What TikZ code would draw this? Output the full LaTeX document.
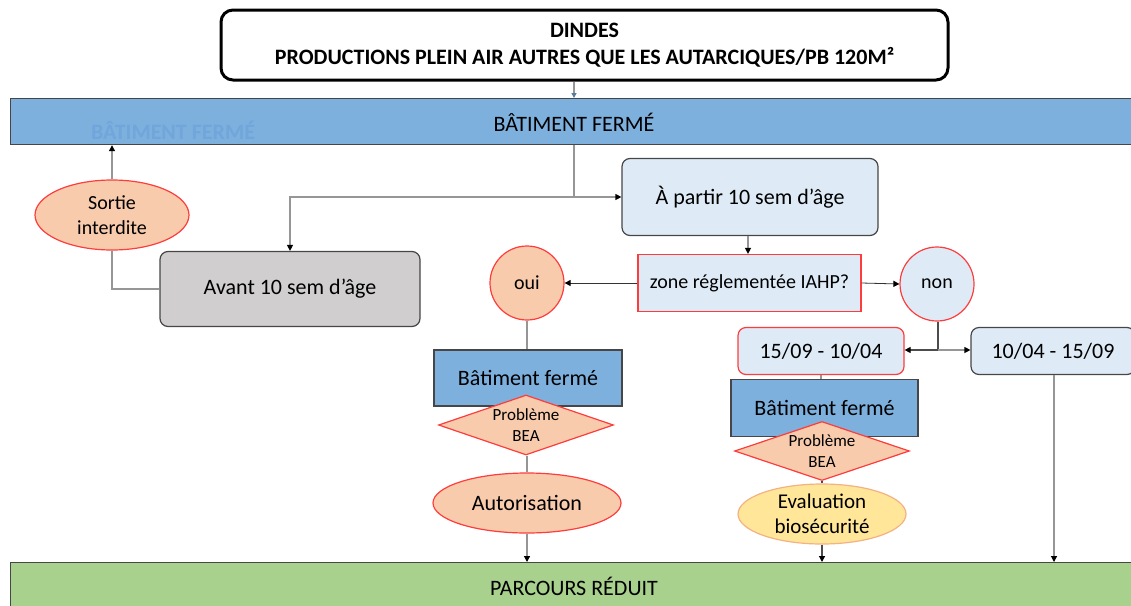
\documentclass[tikz,border=0pt]{standalone}
\usepackage{fontspec}
\setmainfont{Carlito}
\usetikzlibrary{arrows.meta,shapes.geometric}
\definecolor{barblue}{RGB}{126,176,222}
\definecolor{ghost}{RGB}{112,166,219}
\definecolor{lightblue}{RGB}{222,235,247}
\definecolor{salmon}{RGB}{248,203,173}
\definecolor{boxgray}{RGB}{208,206,206}
\definecolor{barGreen}{RGB}{169,209,142}
\definecolor{evalYellow}{RGB}{255,230,153}
\definecolor{evalBorder}{RGB}{244,177,131}
\definecolor{redb}{RGB}{255,60,60}
\definecolor{darkb}{RGB}{70,70,70}
\definecolor{linegray}{RGB}{150,150,150}
\tikzset{
  conn/.style={draw=linegray, line width=1.2pt},
  arr/.style={conn, -{Triangle[length=6pt,width=6pt,color=black]}},
  rbox/.style={draw=darkb, line width=1.2pt, rounded corners=8pt, inner sep=0pt, align=center, font=\fontsize{22}{26}\selectfont},
  sbox/.style={draw=darkb, line width=1.5pt, inner sep=0pt, align=center, font=\fontsize{22}{26}\selectfont},
  ell/.style={ellipse, draw=redb, line width=1.2pt, fill=salmon, inner sep=0pt, align=center},
  circ/.style={circle, draw=redb, line width=1.2pt, inner sep=0pt, minimum size=74pt, font=\fontsize{20}{24}\selectfont},
  dia/.style={diamond, draw=redb, line width=1.2pt, fill=salmon, inner sep=0pt, aspect=2.9, align=center, font=\fontsize{17}{21}\selectfont},
  bar/.style={draw=darkb, line width=1.2pt, inner sep=0pt},
  bartext/.style={font=\fontsize{22}{26}\selectfont},
}
\begin{document}
\begin{tikzpicture}[x=1pt,y=-1pt]
\useasboundingbox (0,0) rectangle (1131,605);
% bars
\node[bar, fill=barblue, minimum width=1130pt, minimum height=46pt, anchor=north west] (top) at (10,98) {};
\node[bartext] (toptxt) at (574,122) {BÂTIMENT FERMÉ};
\node[font=\bfseries\fontsize{22}{26}\selectfont, text=ghost] (ghosttxt) at (173,130) {BÂTIMENT FERMÉ};
\node[bar, fill=barGreen, minimum width=1130pt, minimum height=50pt, anchor=north west] (bot) at (10,562) {};
\node[bartext] (bottxt) at (574,586) {PARCOURS RÉDUIT};
% title
\node[draw=black, line width=3pt, rounded corners=12pt, fill=white, minimum width=727pt, minimum height=70pt, align=center, inner sep=0pt, font=\bfseries\fontsize{22}{27}\selectfont] (title) at (584.5,45) {\raisebox{-2pt}{DINDES}\\\raisebox{-2pt}{PRODUCTIONS PLEIN AIR AUTRES QUE LES AUTARCIQUES/PB 120M²}};
% left part
\node[ell, minimum width=154pt, minimum height=70pt, font=\fontsize{20}{25}\selectfont] (sortie) at (112,215) {Sortie\\interdite};
\node[rbox, fill=boxgray, minimum width=260pt, minimum height=75pt] (avant) at (290,289) {Avant 10 sem d’âge};
\node[rbox, fill=lightblue, minimum width=256pt, minimum height=77pt] (apartir) at (750,197) {À partir 10 sem d’âge};
\node[draw=redb, line width=1.2pt, fill=lightblue, minimum width=223pt, minimum height=57pt, inner sep=0pt, font=\fontsize{20}{24}\selectfont] (zone) at (749.5,283) {zone réglementée IAHP?};
\node[circ, fill=salmon] (oui) at (527,283) {oui};
\node[circ, fill=lightblue] (non) at (937,284) {non};
% dates
\node[rbox, draw=redb, fill=lightblue, minimum width=166pt, minimum height=47pt] (d1) at (821,351) {15/09 - 10/04};
\node[rbox, fill=lightblue, minimum width=164pt, minimum height=47pt] (d2) at (1053,351) {10/04 - 15/09};
% left column
\node[sbox, fill=barblue, minimum width=188pt, minimum height=56pt] (bf1) at (528,378) {Bâtiment fermé};
\node[dia, minimum width=175pt, minimum height=60pt] (pb1) at (526,425) {Problème\\BEA};
\node[ell, minimum width=188pt, minimum height=60pt, font=\fontsize{22}{26}\selectfont] (auto) at (527,503) {Autorisation};
% middle column
\node[sbox, fill=barblue, minimum width=187pt, minimum height=57pt] (bf2) at (824.5,408) {Bâtiment fermé};
\node[dia, minimum width=175pt, minimum height=59pt] (pb2) at (822,451) {Problème\\BEA};
\node[ellipse, draw=evalBorder, line width=1.2pt, fill=evalYellow, inner sep=0pt, minimum width=168pt, minimum height=60pt, align=center, font=\fontsize{21}{25}\selectfont] (eval) at (822,514) {Evaluation\\biosécurité};
% connectors
\coordinate (j1) at (574,197);
\draw[conn, -{Triangle[length=5pt,width=5pt,color=barblue!70!black]}] (title.south -| 574,0) -- (top.north -| 574,0);
\draw[conn] (top.south -| j1) -- (j1);
\draw[arr] (j1) -- (apartir.west);
\draw[arr] (j1) -| (avant.north);
\draw[arr] (sortie.north) -- (sortie.north |- top.south);
\draw[conn] (sortie.south) |- (avant.west);
\draw[arr] (apartir.south -| 748,0) -- (zone.north -| 748,0);
\draw[arr, draw=black!80, line width=0.8pt] (zone.west) -- (oui.east);
\draw[arr, draw=black!80, line width=0.8pt] (zone.east) -- (non.west);
\coordinate (j2) at (938,350);
\draw[conn, draw=black!70] (non.south -| j2) -- (j2);
\draw[arr, draw=black!70] (j2) -- (d1.east |- j2);
\draw[arr] (j2) -- (d2.west |- j2);
\draw[conn] (oui.south) -- (bf1.north -| oui.south);
\draw[conn] (pb1.south -| 527,0) -- (auto.north);
\draw[arr] (auto.south) -- (bot.north -| auto.south);
\draw[conn] (d1.south) -- (bf2.north -| d1.south);
\draw[conn, draw=black!70] (pb2.south) -- (eval.north);
\draw[arr, draw=black!70] (eval.south) -- (bot.north -| eval.south);
\draw[arr] (d2.south -| 1054,0) -- (bot.north -| 1054,0);
\end{tikzpicture}
\end{document}
